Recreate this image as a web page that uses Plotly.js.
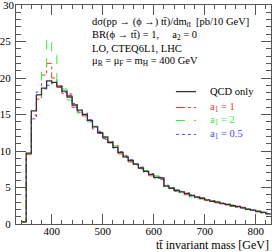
<!DOCTYPE html>
<html><head><meta charset="utf-8">
<script src="https://cdn.plot.ly/plotly-3.0.1.min.js"></script>
<style>html,body{margin:0;padding:0;background:#fff}#wrap{position:relative;width:272px;height:252px}#c{width:272px;height:252px}#ytop{position:absolute;left:0;top:0;width:14px;text-align:right;font-family:'Liberation Serif',serif;font-size:11px;line-height:11px;color:#000;z-index:10}</style>
</head><body><div id="wrap"><div id="c"></div><div id="ytop"></div></div>
<script>
const binLeft = [340,350,360,370,380,390,400,410,420,430,440,450,460,470,480,490,500,510,520,530,540,550,560,570,580,590,600,610,620,630,640,650,660,670,680,690,700,710,720,730,740,750,760,770,780,790,800,810,820];
const binWidth = 10;
const qcd = [0.3,9.7,15.5,17.7,18.6,19.6,19.4,18.9,18.2,17.4,16.3,15.6,15.0,14.2,13.3,12.5,11.9,11.2,10.5,9.8,9.2,8.7,8.2,7.7,7.2,6.8,6.4,6.3,5.2,4.9,4.6,4.4,4.2,3.9,3.7,3.5,3.3,3.1,3.0,2.8,2.7,2.5,2.4,2.2,2.0,1.9,1.7,1.6,1.4];
const a1_1 = [0.3,9.5,14.9,17.1,20.4,22.0,20.0,18.7,17.9,17.6,16.0,15.3,14.8,14.3,13.0,12.4,11.6,11.1,10.8,9.6,9.4,8.5,8.2,7.6,7.3,6.6,6.5,6.1,5.3,4.9,4.5,4.5,4.0,4.0,3.6,3.6,3.2,3.2,2.9,2.9,2.6,2.6,2.3,2.3,2.0,1.9,1.8,1.5,1.5];
const a1_2 = [0.3,9.6,15.0,17.4,20.8,25.3,23.5,19.3,18.5,17.0,16.6,15.2,15.1,14.0,13.4,12.3,12.0,11.0,10.7,9.7,9.3,8.6,8.3,7.5,7.3,6.7,6.6,6.0,5.3,4.8,4.7,4.2,4.3,3.7,3.8,3.4,3.3,3.0,3.1,2.7,2.7,2.4,2.4,2.2,2.1,1.8,1.8,1.5,1.4];
const a1_05 = [0.3,9.7,14.4,18.1,18.5,19.0,19.3,18.9,18.0,17.8,16.5,15.4,15.2,14.0,13.3,12.7,11.7,11.3,10.4,9.9,9.1,8.8,8.1,7.8,7.1,6.9,6.3,6.4,5.1,5.0,4.5,4.4,4.1,4.0,3.6,3.5,3.3,3.2,2.9,2.8,2.7,2.5,2.4,2.2,2.1,1.9,1.7,1.6,1.4];
const seriesNames = ['QCD only','a<sub>1</sub> = 1','a<sub>1</sub> = 2','a<sub>1</sub> = 0.5'];
const xTitle = 'tt\u0304 invariant mass [GeV]';
const yTickVals = [0,5,10,15,20,25,30];
const infoLines = [
 'd\u03c3(pp \u2192 (\u03d5 \u2192) tt\u0304)/dm<sub>tt\u0304</sub>  [pb/10 GeV]',
 'BR(\u03d5 \u2192 tt\u0304) = 1,     a<sub>2</sub> = 0',
 'LO, CTEQ6L1, LHC',
 '\u03bc<sub>R</sub> = \u03bc<sub>F</sub> = m<sub>H</sub> = 400 GeV'
];

const styles = [
 {color:'#333333', dash:'solid', width:1.3},
 {color:'#ff3030', dash:'dashdot', width:1},
 {color:'#33ee33', dash:'dash', width:1},
 {color:'#4848ff', dash:'dot', width:1}
];
const xs = binLeft.concat([binLeft[binLeft.length-1]+binWidth]);
function ext(a){return a.concat([a[a.length-1]]);}
const all = [qcd,a1_1,a1_2,a1_05];
const order = [3,1,2,0];
const traces = order.map(i=>({x:xs,y:ext(all[i]),type:'scatter',mode:'lines',line:{shape:'hv',color:styles[i].color,dash:styles[i].dash,width:styles[i].width},showlegend:false,hoverinfo:'skip'}));

const F = 'Liberation Serif, Times New Roman, serif';
const ann = [];
const shapes = [];
const infoY = [0.918,0.859,0.800,0.741];
infoLines.forEach((t,k)=>ann.push({xref:'paper',yref:'paper',x:0.29,y:infoY[k],xanchor:'left',yanchor:'middle',text:t,showarrow:false,font:{family:F,size:10.5,color:'#000'}}));
const legY = [0.6045,0.532,0.4727,0.409];
const txtCol = ['#000','#ff3030','#33ee33','#4848ff'];
seriesNames.forEach((n,k)=>{
  shapes.push({type:'line',xref:'paper',yref:'paper',x0:0.627,x1:0.706,y0:legY[k],y1:legY[k],line:{color:styles[k].color,dash:styles[k].dash,width:styles[k].width}});
  ann.push({xref:'paper',yref:'paper',x:0.753,y:legY[k],xanchor:'left',yanchor:'middle',text:n,showarrow:false,font:{family:F,size:10.5,color:txtCol[k]}});
});
ann.push({xref:'paper',yref:'paper',x:1.0,y:-0.055,xanchor:'right',yanchor:'top',text:xTitle,showarrow:false,font:{family:F,size:12,color:'#000'}});

const axCommon = {showgrid:false,zeroline:false,showline:true,linecolor:'#555',linewidth:1,mirror:'allticks',ticks:'inside',ticklen:10,tickcolor:'#555',tickfont:{family:F,size:11,color:'#000'}};
const layout = {
  width:272,height:252,margin:{l:16,r:1,t:5,b:28},paper_bgcolor:'#fff',plot_bgcolor:'#fff',
  xaxis:Object.assign({},axCommon,{range:[330,830],dtick:100,tick0:0,ticklabelstandoff:-3,minor:{dtick:20,ticklen:4,tickcolor:'#555',ticks:'inside'}}),
  yaxis:Object.assign({},axCommon,{range:[0,30],tickmode:'array',tickvals:yTickVals,ticktext:yTickVals.map(String),ticklabelstandoff:2,minor:{dtick:1,ticklen:5,tickcolor:'#555',ticks:'inside'}}),
  annotations:ann,shapes:shapes,showlegend:false
};
Plotly.newPlot('c',traces,layout,{staticPlot:true,displayModeBar:false});
// top y tick label as plain HTML text (Plotly leaves it out at the top edge)
document.getElementById('ytop').textContent = String(yTickVals[yTickVals.length-1]);
</script></body></html>
